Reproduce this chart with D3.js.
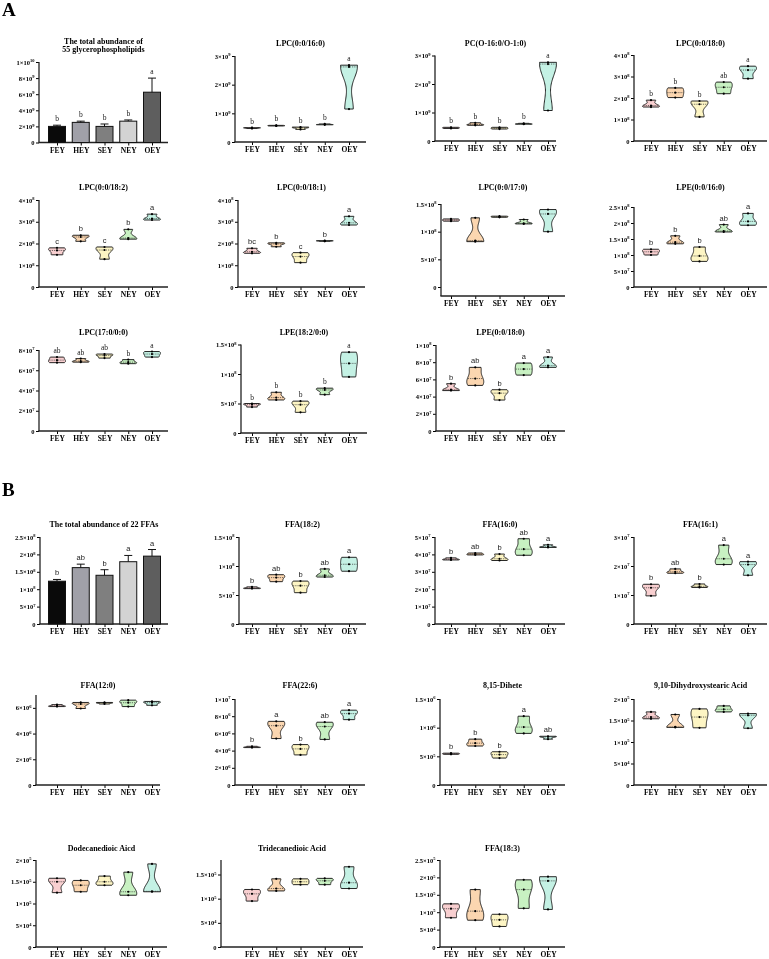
<!DOCTYPE html>
<html>
<head>
<meta charset="utf-8">
<script src="https://cdn.jsdelivr.net/npm/d3@7"></script>
<style>
  body { margin: 0; background: #fff; }
  svg { display: block; will-change: transform; }
</style>
</head>
<body>
<svg id="fig" width="769" height="959"></svg>
<script>
// groups on every x axis
const groups = ['FEY', 'HEY', 'SEY', 'NEY', 'OEY'];

// ---- A: glycerophospholipids ----
const gplTotalMean = [2.0e9, 2.5e9, 2.0e9, 2.65e9, 6.25e9];
const gplTotalErr = [0.15e9, 0.15e9, 0.3e9, 0.15e9, 1.75e9];
const gplTotalLetters = ['b', 'b', 'b', 'b', 'a'];

const lpc16_0 = [[4.7e8, 4.9e8, 5.0e8], [5.6e8, 5.7e8, 5.8e8], [4.4e8, 5.0e8, 5.2e8], [6.0e8, 6.1e8, 6.3e8], [1.15e9, 2.62e9, 2.68e9]];
const lpc16_0Letters = ['b', 'b', 'b', 'b', 'a'];
const pcO16_0 = [[4.4e8, 4.6e8, 4.8e8], [5.5e8, 5.8e8, 6.4e8], [4.2e8, 4.5e8, 4.8e8], [5.9e8, 6.0e8, 6.2e8], [1.07e9, 2.7e9, 2.76e9]];
const pcO16_0Letters = ['b', 'b', 'b', 'b', 'a'];
const lpc18_0 = [[1.58e8, 1.65e8, 1.9e8], [2.02e8, 2.25e8, 2.47e8], [1.12e8, 1.71e8, 1.86e8], [2.2e8, 2.5e8, 2.74e8], [2.9e8, 3.3e8, 3.48e8]];
const lpc18_0Letters = ['b', 'b', 'b', 'ab', 'a'];

const lpc18_2 = [[1.48e8, 1.68e8, 1.8e8], [2.1e8, 2.3e8, 2.38e8], [1.28e8, 1.7e8, 1.84e8], [2.2e8, 2.25e8, 2.65e8], [3.08e8, 3.15e8, 3.35e8]];
const lpc18_2Letters = ['c', 'b', 'c', 'b', 'a'];
const lpc18_1 = [[1.55e8, 1.62e8, 1.78e8], [1.85e8, 1.98e8, 2.03e8], [1.12e8, 1.4e8, 1.58e8], [2.1e8, 2.12e8, 2.13e8], [2.85e8, 2.95e8, 3.25e8]];
const lpc18_1Letters = ['bc', 'b', 'c', 'b', 'a'];
const lpc17_0 = [[1.19e8, 1.21e8, 1.23e8], [0.82e8, 0.84e8, 1.25e8], [1.26e8, 1.27e8, 1.28e8], [1.14e8, 1.15e8, 1.22e8], [1.0e8, 1.32e8, 1.4e8]];
const lpe16_0 = [[1.0e8, 1.1e8, 1.18e8], [1.35e8, 1.4e8, 1.6e8], [0.8e8, 0.97e8, 1.25e8], [1.72e8, 1.75e8, 1.95e8], [1.93e8, 2.05e8, 2.3e8]];
const lpe16_0Letters = ['b', 'b', 'b', 'ab', 'a'];

const lpc17_0_0_0 = [[6.75e7, 7.0e7, 7.3e7], [6.8e7, 6.9e7, 7.15e7], [7.2e7, 7.45e7, 7.6e7], [6.65e7, 6.8e7, 7.05e7], [7.3e7, 7.6e7, 7.85e7]];
const lpc17_0_0_0Letters = ['ab', 'ab', 'ab', 'b', 'a'];
const lpe18_2 = [[4.4e7, 4.8e7, 5.0e7], [5.6e7, 6.0e7, 6.9e7], [3.5e7, 4.8e7, 5.4e7], [6.5e7, 7.3e7, 7.6e7], [0.95e8, 1.18e8, 1.37e8]];
const lpe18_2Letters = ['b', 'b', 'b', 'b', 'a'];
const lpe18_0 = [[4.7e7, 4.8e7, 5.5e7], [5.3e7, 6.1e7, 7.4e7], [3.6e7, 4.4e7, 4.8e7], [6.5e7, 7.2e7, 7.9e7], [7.4e7, 7.6e7, 8.6e7]];
const lpe18_0Letters = ['b', 'ab', 'b', 'a', 'a'];

// ---- B: free fatty acids ----
const ffaTotalMean = [1.23e8, 1.62e8, 1.40e8, 1.79e8, 1.95e8];
const ffaTotalErr = [0.05e8, 0.10e8, 0.16e8, 0.18e8, 0.19e8];
const ffaTotalLetters = ['b', 'ab', 'b', 'a', 'a'];

const ffa18_2 = [[6.1e7, 6.2e7, 6.4e7], [7.3e7, 8.0e7, 8.5e7], [5.4e7, 6.6e7, 7.4e7], [8.1e7, 8.4e7, 9.5e7], [9.1e7, 10.3e7, 11.5e7]];
const ffa18_2Letters = ['b', 'ab', 'b', 'ab', 'a'];
const ffa16_0 = [[3.68e7, 3.72e7, 3.8e7], [3.97e7, 4.02e7, 4.08e7], [3.65e7, 3.75e7, 4.02e7], [3.95e7, 4.3e7, 4.9e7], [4.4e7, 4.43e7, 4.55e7]];
const ffa16_0Letters = ['b', 'ab', 'b', 'ab', 'a'];
const ffa16_1 = [[0.97e7, 1.25e7, 1.37e7], [1.75e7, 1.8e7, 1.9e7], [1.26e7, 1.3e7, 1.38e7], [2.05e7, 2.25e7, 2.72e7], [1.68e7, 2.05e7, 2.15e7]];
const ffa16_1Letters = ['b', 'ab', 'b', 'a', 'a'];

const ffa12_0 = [[6.1e6, 6.15e6, 6.25e6], [5.95e6, 6.3e6, 6.42e6], [6.3e6, 6.38e6, 6.42e6], [6.1e6, 6.4e6, 6.6e6], [6.2e6, 6.4e6, 6.5e6]];
const ffa22_6 = [[4.35e6, 4.4e6, 4.5e6], [5.4e6, 6.9e6, 7.4e6], [3.5e6, 4.2e6, 4.7e6], [5.3e6, 6.8e6, 7.3e6], [7.6e6, 8.3e6, 8.7e6]];
const ffa22_6Letters = ['b', 'a', 'b', 'ab', 'a'];
const dihete = [[5.35e5, 5.45e5, 5.55e5], [6.8e5, 7.3e5, 8.0e5], [4.7e5, 5.3e5, 5.8e5], [9.0e5, 10.1e5, 12.0e5], [8.0e5, 8.4e5, 8.5e5]];
const diheteLetters = ['b', 'b', 'b', 'a', 'ab'];
const dihydroxystearic = [[1.54e5, 1.58e5, 1.7e5], [1.34e5, 1.35e5, 1.64e5], [1.33e5, 1.58e5, 1.77e5], [1.7e5, 1.76e5, 1.84e5], [1.32e5, 1.62e5, 1.66e5]];

const dodecanedioic = [[1.25e5, 1.5e5, 1.58e5], [1.27e5, 1.42e5, 1.53e5], [1.42e5, 1.5e5, 1.63e5], [1.19e5, 1.27e5, 1.72e5], [1.27e5, 1.28e5, 1.91e5]];
const tridecanedioic = [[0.95e5, 1.1e5, 1.19e5], [1.16e5, 1.21e5, 1.41e5], [1.29e5, 1.35e5, 1.41e5], [1.29e5, 1.37e5, 1.42e5], [1.21e5, 1.33e5, 1.66e5]];
const ffa18_3 = [[0.84e5, 1.1e5, 1.24e5], [0.77e5, 1.03e5, 1.65e5], [0.59e5, 0.78e5, 0.94e5], [1.11e5, 1.65e5, 1.93e5], [1.08e5, 1.9e5, 2.02e5]];

// y tick values
const ticksGpl = [0, 2e9, 4e9, 6e9, 8e9, 1e10];
const ticks3e9 = [0, 1e9, 2e9, 3e9];
const ticks4e8 = [0, 1e8, 2e8, 3e8, 4e8];
const ticks15e7 = [0, 5e7, 1e8, 1.5e8];
const ticks25e7 = [0, 5e7, 1e8, 1.5e8, 2e8, 2.5e8];
const ticks8e7 = [0, 2e7, 4e7, 6e7, 8e7];
const ticks1e8 = [0, 2e7, 4e7, 6e7, 8e7, 1e8];
const ticks5e7 = [0, 1e7, 2e7, 3e7, 4e7, 5e7];
const ticks3e7 = [0, 1e7, 2e7, 3e7];
const ticks6e6 = [0, 2e6, 4e6, 6e6];
const ticks1e7 = [0, 2e6, 4e6, 6e6, 8e6, 1e7];
const ticks15e5 = [0, 5e5, 1e6, 1.5e6];
const ticks2e5 = [0, 5e4, 1e5, 1.5e5, 2e5];
const ticks15e4 = [0, 5e4, 1e5, 1.5e5];
const ticks25e4 = [0, 5e4, 1e5, 1.5e5, 2e5, 2.5e5];

const serif = '"Liberation Serif","Times New Roman",serif';
const sans = '"Liberation Sans",Arial,sans-serif';
const violinFill = ['#f8cfd0', '#fbd6b0', '#fdf5c4', '#c8f1c2', '#c4f1e4'];
const barFill = ['#0a0a0a', '#a0a0a8', '#7f7f7f', '#d3d3d3', '#5e5e5e'];
const colX = [[57, 152], [252, 349], [451, 548], [651, 748]];

const panels = [
  // A row 1
  { title: ['The total abundance of', '55 glycerophospholipids'], titleY: 44, bar: gplTotalMean, err: gplTotalErr, letters: gplTotalLetters, ticks: ticksGpl, max: 1e10, col: 0, ax: 39, ex: 168, zeroY: 142.5, topY: 62, lf: serif },
  { title: ['LPC(0:0/16:0)'], titleY: 45.5, vals: lpc16_0, letters: lpc16_0Letters, ticks: ticks3e9, max: 3e9, col: 1, ax: 235, ex: 366, zeroY: 142, topY: 56, lf: serif },
  { title: ['PC(O-16:0/O-1:0)'], titleY: 45.5, vals: pcO16_0, letters: pcO16_0Letters, ticks: ticks3e9, max: 3e9, col: 2, ax: 435, ex: 556, zeroY: 141, topY: 55.5, lf: serif },
  { title: ['LPC(0:0/18:0)'], titleY: 45.5, vals: lpc18_0, letters: lpc18_0Letters, ticks: ticks4e8, max: 4e8, col: 3, ax: 634, ex: 767, zeroY: 141, topY: 55, lf: serif },
  // A row 2
  { title: ['LPC(0:0/18:2)'], titleY: 189.5, vals: lpc18_2, letters: lpc18_2Letters, ticks: ticks4e8, max: 4e8, col: 0, ax: 39, ex: 168, zeroY: 287, topY: 200, lf: sans },
  { title: ['LPC(0:0/18:1)'], titleY: 189.5, vals: lpc18_1, letters: lpc18_1Letters, ticks: ticks4e8, max: 4e8, col: 1, ax: 238, ex: 365, zeroY: 287, topY: 200, lf: sans },
  { title: ['LPC(0:0/17:0)'], titleY: 189.5, vals: lpc17_0, ticks: ticks15e7, max: 1.5e8, col: 2, ax: 441, ex: 565, zeroY: 287, topY: 204, axisY: 296, lf: sans },
  { title: ['LPE(0:0/16:0)'], titleY: 189.5, vals: lpe16_0, letters: lpe16_0Letters, ticks: ticks25e7, max: 2.5e8, col: 3, ax: 634, ex: 767, zeroY: 287, topY: 207, lf: sans },
  // A row 3
  { title: ['LPC(17:0/0:0)'], titleY: 334.5, vals: lpc17_0_0_0, letters: lpc17_0_0_0Letters, ticks: ticks8e7, max: 8e7, col: 0, ax: 39, ex: 168, zeroY: 431, topY: 350, lf: serif },
  { title: ['LPE(18:2/0:0)'], titleY: 334.5, vals: lpe18_2, letters: lpe18_2Letters, ticks: ticks15e7, max: 1.5e8, col: 1, ax: 241, ex: 367, zeroY: 433, topY: 344.5, lf: serif },
  { title: ['LPE(0:0/18:0)'], titleY: 334.5, vals: lpe18_0, letters: lpe18_0Letters, ticks: ticks1e8, max: 1e8, col: 2, ax: 436, ex: 565, zeroY: 431, topY: 345, lf: sans },
  // B row 1
  { title: ['The total abundance of 22 FFAs'], titleY: 526.5, bar: ffaTotalMean, err: ffaTotalErr, letters: ffaTotalLetters, ticks: ticks25e7, max: 2.5e8, col: 0, ax: 40, ex: 168, zeroY: 624, topY: 537, lf: sans },
  { title: ['FFA(18:2)'], titleY: 526.5, vals: ffa18_2, letters: ffa18_2Letters, ticks: ticks15e7, max: 1.5e8, col: 1, ax: 239, ex: 366, zeroY: 624, topY: 537, lf: sans },
  { title: ['FFA(16:0)'], titleY: 526.5, vals: ffa16_0, letters: ffa16_0Letters, ticks: ticks5e7, max: 5e7, col: 2, ax: 435, ex: 565, zeroY: 624, topY: 537, lf: sans },
  { title: ['FFA(16:1)'], titleY: 526.5, vals: ffa16_1, letters: ffa16_1Letters, ticks: ticks3e7, max: 3e7, col: 3, ax: 634, ex: 767, zeroY: 624, topY: 537, lf: sans },
  // B row 2
  { title: ['FFA(12:0)'], titleY: 687.5, vals: ffa12_0, ticks: ticks6e6, max: 7e6, col: 0, ax: 36, ex: 160, zeroY: 785, topY: 695, lf: sans },
  { title: ['FFA(22:6)'], titleY: 687.5, vals: ffa22_6, letters: ffa22_6Letters, ticks: ticks1e7, max: 1e7, col: 1, ax: 235, ex: 365, zeroY: 785, topY: 699, lf: sans },
  { title: ['8,15-Dihete'], titleY: 687.5, vals: dihete, letters: diheteLetters, ticks: ticks15e5, max: 1.5e6, col: 2, ax: 440, ex: 565, zeroY: 785, topY: 699, lf: sans },
  { title: ['9,10-Dihydroxystearic Acid'], titleY: 687.5, vals: dihydroxystearic, ticks: ticks2e5, max: 2e5, col: 3, ax: 634, ex: 767, zeroY: 785, topY: 699, lf: sans },
  // B row 3
  { title: ['Dodecanedioic Aicd'], titleY: 850.5, vals: dodecanedioic, ticks: ticks2e5, max: 2e5, col: 0, ax: 36, ex: 167, zeroY: 947, topY: 860, lf: sans },
  { title: ['Tridecanedioic Acid'], titleY: 850.5, vals: tridecanedioic, ticks: ticks15e4, max: 1.8e5, col: 1, ax: 221, ex: 363, zeroY: 947, topY: 860, lf: sans },
  { title: ['FFA(18:3)'], titleY: 850.5, vals: ffa18_3, ticks: ticks25e4, max: 2.5e5, col: 2, ax: 440, ex: 565, zeroY: 947, topY: 860, lf: sans }
];

const svg = d3.select('#fig');

svg.append('text').attr('x', 2).attr('y', 16).attr('font-family', serif)
  .attr('font-weight', 'bold').attr('font-size', 19).text('A');
svg.append('text').attr('x', 2).attr('y', 496).attr('font-family', serif)
  .attr('font-weight', 'bold').attr('font-size', 19).text('B');

// "2×10^9" style tick text
function sci(sel, v) {
  if (v === 0) { sel.text('0'); return; }
  let e = Math.floor(Math.log10(v) + 1e-9);
  let m = +(v / Math.pow(10, e)).toFixed(1);
  sel.text(null);
  sel.append('tspan').text(m + '×10');
  sel.append('tspan').attr('dy', -2.3).attr('font-size', 4.5).text(e);
}

function drawPanel(p) {
  let g = svg.append('g');
  let y = d3.scaleLinear().domain([0, p.max]).range([p.zeroY, p.topY]);
  let x = d3.scalePoint().domain(groups).range(colX[p.col]);
  let axisY = p.axisY || p.zeroY;

  // title
  let t = g.append('text')
    .attr('text-anchor', 'middle')
    .attr('font-family', serif)
    .attr('font-weight', 'bold')
    .attr('font-size', 8);
  p.title.forEach((line, i) => {
    t.append('tspan').attr('x', (p.ax + p.ex) / 2).attr('y', p.titleY + i * 7.5).text(line);
  });

  // y axis
  let ya = g.append('g')
    .attr('transform', `translate(${p.ax},0)`)
    .call(d3.axisLeft(y).tickValues(p.ticks).tickSize(3).tickPadding(1.5).tickFormat(''))
    .attr('font-family', serif)
    .attr('font-weight', 'bold')
    .attr('font-size', 6.5);
  ya.select('.domain').remove();
  ya.selectAll('.tick line').attr('stroke-width', 1);
  ya.selectAll('.tick text').each(function (d) { sci(d3.select(this), d); });
  g.append('line')
    .attr('x1', p.ax).attr('x2', p.ax)
    .attr('y1', axisY).attr('y2', y(p.max))
    .attr('stroke', '#222').attr('stroke-width', 1.3);

  // x axis
  let xa = g.append('g')
    .attr('transform', `translate(0,${axisY})`)
    .call(d3.axisBottom(x).tickSize(3).tickPadding(2))
    .attr('font-family', serif)
    .attr('font-weight', 'bold')
    .attr('font-size', 7.5);
  xa.select('.domain').remove();
  xa.selectAll('.tick line').attr('stroke-width', 1);
  g.append('line')
    .attr('x1', p.ax - 0.6).attr('x2', p.ex)
    .attr('y1', axisY).attr('y2', axisY)
    .attr('stroke', '#222').attr('stroke-width', 1.3);

  let tops = [];

  if (p.bar) {
    let bw = 17;
    g.selectAll('rect.bar').data(p.bar).join('rect')
      .attr('x', (d, i) => x(groups[i]) - bw / 2)
      .attr('y', d => y(d))
      .attr('width', bw)
      .attr('height', d => p.zeroY - y(d))
      .attr('fill', (d, i) => barFill[i])
      .attr('stroke', '#111')
      .attr('stroke-width', 1);
    p.bar.forEach((d, i) => {
      let cx = x(groups[i]);
      let top = d + p.err[i];
      g.append('line').attr('x1', cx).attr('x2', cx)
        .attr('y1', y(d)).attr('y2', y(top))
        .attr('stroke', '#111').attr('stroke-width', 1);
      g.append('line').attr('x1', cx - 4).attr('x2', cx + 4)
        .attr('y1', y(top)).attr('y2', y(top))
        .attr('stroke', '#111').attr('stroke-width', 1);
      tops.push(y(top));
    });
  } else {
    let halfW = 8.5;
    p.vals.forEach((raw, i) => {
      let vals = raw.slice().sort(d3.ascending);
      let lo = vals[0], hi = vals[vals.length - 1];
      let h = Math.max((hi - lo) * 0.28, p.max * 0.002);
      let steps = d3.range(0, 41).map(k => lo + (hi - lo) * k / 40);
      let dens = steps.map(v => d3.sum(vals, xi => Math.exp(-0.5 * Math.pow((v - xi) / h, 2))));
      let dmax = d3.max(dens);
      let pts = steps.map((v, k) => ({ v: v, w: halfW * dens[k] / dmax }));
      let cx = x(groups[i]);
      let area = d3.area()
        .curve(d3.curveBasis)
        .y(d => y(d.v))
        .x0(d => cx - d.w)
        .x1(d => cx + d.w);
      g.append('path')
        .attr('d', area(pts))
        .attr('fill', violinFill[i])
        .attr('stroke', '#111')
        .attr('stroke-width', 0.9);
      // median
      let med = d3.median(vals);
      let mw = halfW * d3.sum(vals, xi => Math.exp(-0.5 * Math.pow((med - xi) / h, 2))) / dmax;
      g.append('line')
        .attr('x1', cx - mw + 0.5).attr('x2', cx + mw - 0.5)
        .attr('y1', y(med)).attr('y2', y(med))
        .attr('stroke', '#333').attr('stroke-width', 0.7)
        .attr('stroke-dasharray', '1.2,1');
      g.selectAll(null).data(vals).join('circle')
        .attr('cx', cx).attr('cy', d => y(d))
        .attr('r', 1.1).attr('fill', '#000');
      tops.push(y(hi));
    });
  }

  if (p.letters) {
    p.letters.forEach((l, i) => {
      g.append('text')
        .attr('x', x(groups[i]))
        .attr('y', tops[i] - 4)
        .attr('text-anchor', 'middle')
        .attr('font-family', p.lf)
        .attr('font-size', 7.5)
        .attr('fill', '#222')
        .text(l);
    });
  }
}

panels.forEach(drawPanel);
</script>
</body>
</html>
